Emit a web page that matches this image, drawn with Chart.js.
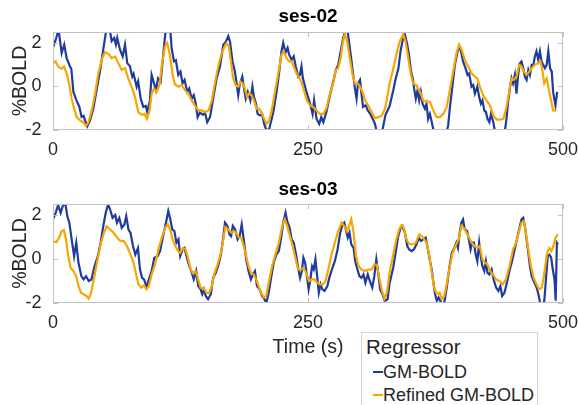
<!DOCTYPE html>
<html><head><meta charset="utf-8">
<script src="https://cdn.jsdelivr.net/npm/chart.js@4/dist/chart.umd.min.js"></script>
<style>
html,body{margin:0;padding:0;background:#fff;width:579px;height:405px;overflow:hidden;font-family:"Liberation Sans",Arial,sans-serif;}
canvas{position:absolute;left:0;}
#c1{top:0;}
#c2{top:170px;}
#legend{position:absolute;left:361px;top:332px;width:177px;height:90px;border:1px solid #d4d4d4;box-sizing:border-box;color:#262626;background:#fff;}
#legend .ttl{position:absolute;left:4px;top:2px;font-size:20.5px;line-height:24px;}
#legend .it{position:absolute;left:11px;font-size:18px;line-height:22px;white-space:nowrap;}
#legend .sw{display:inline-block;width:10px;height:2px;vertical-align:middle;margin-right:0;position:relative;top:-1px;}
</style>
</head><body>
<canvas id="c1" width="579" height="170"></canvas>
<canvas id="c2" width="579" height="235"></canvas>
<div id="legend"></div>
<script>
// ---- data ----
const panelTitles = ["ses-02", "ses-03"];
const seriesNames = ["GM-BOLD", "Refined GM-BOLD"];
const xTickValues = [0, 250, 500];
const yTickValues = [-2, 0, 2];

const ses02GmT = [0,3,5.5,8.5,11,13.4,16.7,18,20,23,25.8,28,30,31.4,33.6,36,39.5,43,46,50,52.6,55,57.5,60,61.7,63,65.7,68.3,70.6,72.8,75.5,77.7,79,82,83.5,86,88.5,91,92.4,95,96.7,99,101,103,105.5,107.5,109,111,113,115,116.3,118.6,120.5,122.8,125,127,129,131.6,133.5,136,138,140,141.8,144,147,149,151.2,154,157,160.4,163.7,167,169.5,171.8,173.5,176,178.4,180,181.6,183,185.6,187,189,191,193.5,195.5,197,199,200.6,203,205,207,209.4,212,216,219.2,221.8,224,225.7,228,230,231.5,234,236,238,240.4,242,243.6,245,248,250,252.5,254.5,256,258.4,261,263,265,268,271.5,274.7,277.3,279.6,282,284.5,286.8,288.7,291,292.7,294.3,296,297.6,299,301,302.6,304,306.6,308.6,311,313.5,315.5,318,321,323,326,330,333.5,336,338.7,340.7,343.3,345,347,349,351,352.7,354,355.7,357.4,359,360.6,362.3,364.6,366.2,367.8,369.5,371,372.8,374.4,378,382,385.8,387.4,389,391.7,394,396.7,398.2,400,402,404.4,406.4,408,410.3,412,413.6,416,417.8,419.5,421,422.8,424.5,426,427.8,429.4,431.7,433.4,437,441,443,444.6,446.2,447.9,449.5,451,452.8,454.4,456,457.7,459.3,461,462.6,464.3,466,467.6,469.3,471,472.4,474,475.7,477.4,479,480.6,482.3,484,485.6,487.3,489,490.3,492.6,494.3];
const ses02GmV = [1.77,2.2,2.6,1.53,1.92,1.3,0.91,0.8,-0.25,-0.64,-0.93,-1.4,-1.35,-1.56,-1.83,-1.6,-1.02,-0.1,0.68,1.92,2.7,2.8,2.08,2.23,1.92,2.23,1.69,1.38,1.92,1.07,0.92,0.45,0.58,-0.01,0.23,-0.56,-0.94,-0.9,-1.18,-0.64,0.53,0.15,-0.17,0.37,0.22,1.15,1.92,2.8,3.0,2.6,1.77,1.15,1.2,0.53,0.68,0.14,0.3,-0.25,-0.1,-0.56,-0.4,-0.79,-1.41,-1.2,-1.3,-1.2,-1.64,-1.4,-0.56,0.37,0.92,1.92,2.06,2.31,2.06,1.15,0.68,0.14,-0.4,0.07,0.45,-0.02,-0.56,-0.25,-0.64,0.0,-0.48,-0.79,-1.26,-1.33,-1.26,-1.72,-2.03,-1.95,-1.18,-0.25,0.68,1.61,2.0,1.55,1.77,1.46,1.22,1.38,0.92,0.45,0.53,0.92,0.37,-0.17,-0.48,-0.87,-1.26,-0.64,-1.49,-1.72,-1.41,-1.64,-1.18,-0.4,0.22,0.76,0.99,1.61,2.23,2.6,2.6,1.77,1.15,0.53,-0.1,-0.56,0.14,0.3,-0.4,-0.94,-0.87,-1.1,-1.26,-1.49,-1.7,-2.2,-2.3,-2.0,-1.3,-0.9,-0.2,0.37,0.84,1.61,2.23,2.38,2.0,1.46,0.68,0.37,-0.09,-0.56,-0.17,-0.64,-0.25,-0.79,-1.02,-0.79,-1.49,-1.26,-1.56,-1.95,-2.2,-2.5,-2.5,-2.1,-1.8,-1.02,0.06,0.99,1.61,1.85,1.61,1.15,0.84,0.53,0.6,-0.01,0.07,-0.33,-0.01,-0.48,-0.79,-0.64,-1.1,-1.18,-1.49,-1.64,-1.26,-1.64,-2.1,-2.6,-2.4,-2.05,-1.49,-0.71,-0.09,0.37,0.14,0.53,-0.33,0.53,1.07,1.15,0.84,0.45,0.3,0.76,0.53,0.99,0.99,1.38,1.61,1.22,1.61,1.15,0.99,0.84,0.99,1.61,0.84,0.68,-0.25,-0.87,-0.25];

const ses02RefT = [0,2.6,5,8.5,10.8,13.4,16,18.3,20.7,23.2,26.5,29.7,32.4,34.6,38,41,44.4,47.7,51,54.5,57.5,61,64,67.4,70.6,73.8,77,80.4,83.6,87,89.7,92,94.7,96.7,99,101.6,104.4,106.8,109.8,112,114.6,117.3,119.5,122.8,126,129.4,132.6,136,139,142.6,146,149,152.5,155.7,159,162.3,165.4,167.5,170,172.5,174.4,176.7,179,181.6,184,186,188,190.3,192.3,194.6,197,199.5,202,204.4,207,209.4,212,215.3,218.5,221.8,224,226.4,229,231.5,234,236,238.7,242,245,248.7,252,255,258.4,261.6,265,268,271.5,274.7,277.3,279.6,282,284,286,288.4,291,293.7,296,298.6,301,303.4,306,309,312.5,315.8,319,322.4,325.7,328,330,333.5,336.6,340,343.3,345.6,348.3,350.6,353,355.7,358,360.6,362.9,366.2,369.5,372.8,376,379.4,382.6,386,389,392.3,395.6,398.2,400.6,403.8,407,410.3,413.6,416,418.5,421.7,425,428.4,431.7,435,438,441.6,444.6,447.2,449.5,451.8,454.4,457,459.3,461.6,464.3,467,469.3,472.4,475.7,478,480,481.6,484,486.6,489,490.3,493.6];
const ses02RefV = [1.07,1.15,0.92,0.81,0.92,0.6,0.07,-0.56,-1.02,-1.41,-1.56,-1.64,-1.8,-1.67,-1.1,-0.4,0.6,1.22,1.58,1.49,1.3,1.38,1.07,0.76,0.84,0.37,-0.01,-0.48,-1.18,-1.3,-1.26,-1.49,-1.1,-0.33,-0.1,-0.25,0.07,0.99,1.85,2.0,1.46,0.53,0.1,-0.01,0.07,-0.17,-0.33,-0.64,-0.87,-1.1,-1.1,-1.18,-1.1,-0.64,0.22,0.99,1.53,1.75,1.98,1.85,1.15,0.37,0.07,-0.01,0.22,0.14,-0.09,-0.48,-0.33,-0.4,-0.64,-1.02,-1.02,-1.18,-1.49,-1.72,-1.56,-0.87,-0.01,0.84,1.46,1.61,1.3,1.15,1.15,0.92,0.6,0.37,-0.01,-0.64,-0.87,-0.94,-1.1,-1.26,-1.26,-1.02,-0.33,0.14,0.76,0.84,1.3,2.0,2.39,2.08,1.3,0.53,0.14,0.14,-0.01,-0.25,-0.64,-0.87,-1.18,-1.46,-1.41,-1.33,-1.0,-0.4,0.12,0.8,1.45,2.08,2.39,2.08,1.3,0.6,0.14,0.07,-0.09,-0.33,-0.64,-0.71,-0.71,-1.1,-1.41,-1.41,-1.26,-0.94,-0.17,0.68,1.53,1.92,1.69,1.22,0.92,0.6,0.45,0.37,-0.01,-0.4,-0.64,-0.87,-1.33,-1.52,-1.52,-1.49,-0.94,-0.25,0.37,0.3,0.45,0.99,0.92,0.68,0.53,0.68,0.84,0.99,1.07,1.15,0.68,0.14,0.37,-0.25,-0.79,-1.1,-1.1];

const ses03GmT = [0,2.6,5,7.5,9.5,12,14,16,18.3,20.7,22.8,25,27.8,30,32.4,35,37.7,40.7,44,46.7,49.3,51.7,54,56,58.4,61,62.7,65,67.4,70,71.8,74,76,78.4,80.7,83.3,85.3,87.3,89.3,91.6,94,96.7,99.3,102.6,105,107.6,110,111.4,113,114.7,117,119,121,123,124.7,127,129,131.3,133.6,135.6,138,140.4,142.4,144.7,146.3,148,149.7,152,154.7,157,159.6,162.3,164.6,167,168.6,171,173,174.6,176.3,178.6,181,183,185,187.4,189.4,191.7,194,196,198,200,202.6,205,207.3,209.2,211.5,213.8,216.4,219,221.4,223.7,225.7,228,229.6,232,234,236,238.6,240.6,242.2,244,245.5,247.2,249,250.6,252.3,254,255.6,257.3,259,260.6,262.3,264,266.2,269,271.3,274,276.3,279,281.3,283.7,285.6,287.4,289,290.7,292.4,294.7,296.3,298,300.4,302.4,304.4,306.3,308.6,310.6,313,315,317,319,320.7,323,325.3,328,330,333.5,336,338.3,340.6,342.6,345,347.3,349.2,351.5,353.8,356.4,358.7,360.7,363,365.3,367,369,371.3,373,374.6,376.3,378,379.6,382,384,386.2,388.8,391,393.4,395.4,397,398.7,400.4,402,403.7,406,407.7,409.4,411,412.7,414.4,416,417.8,419.5,421,422.8,424.4,426,427.8,430,432,434.4,436.6,438.6,440.3,442.6,445,447.5,450,452.6,454.8,457,459.3,461,462.6,464.3,466,467.6,469.3,472,474.2,475.9,477.6,480,481.8,483.5,485,486.8,488.4,490,491.7,492.8,494,495];
const ses03GmV = [1.8,2.1,2.45,2.1,2.4,2.56,1.95,1.65,0.89,0.13,0.74,-0.17,-0.78,-0.93,-0.78,-1.0,-0.93,-0.33,0.13,0.74,1.5,2.1,2.48,2.25,1.87,2.0,1.65,1.87,1.42,1.57,1.95,1.34,1.19,0.59,0.2,0.5,-0.48,-0.86,-0.93,-1.27,-0.93,-0.55,0.06,0.13,0.36,0.97,1.5,1.8,2.18,1.87,1.34,1.27,0.74,0.89,0.13,0.43,0.5,0.06,-0.33,-0.55,-0.93,-0.55,-1.23,-1.38,-1.6,-1.38,-1.68,-1.83,-1.6,-0.86,-0.63,-0.25,0.2,1.0,1.65,1.5,1.12,1.04,1.5,1.34,0.89,1.04,1.57,0.74,-0.02,-0.55,-0.93,-0.7,-0.55,-1.23,-1.38,-1.68,-1.83,-2.0,-1.53,-0.86,-0.17,0.2,0.36,0.97,1.65,2.1,1.72,1.42,0.89,0.74,0.13,-0.48,-0.86,-0.55,0.06,-0.17,-0.78,-1.38,-0.93,-0.33,-0.48,-0.02,-0.78,-1.53,-1.15,-1.38,-1.45,-1.23,-0.78,-0.4,-0.1,0.43,1.12,1.57,1.65,1.27,0.97,1.2,0.67,0.5,-0.1,-0.4,-0.78,-0.86,-0.7,-1.08,-0.7,-1.0,-1.3,-0.78,-0.02,-0.7,-1.38,-1.6,-1.9,-1.83,-1.1,-0.4,0.3,1.0,1.4,1.5,1.2,0.59,0.43,0.36,0.43,0.67,0.97,0.82,0.89,0.97,0.59,0.06,-0.48,-1.08,-1.6,-1.9,-1.75,-1.9,-2.1,-1.9,-1.23,-0.33,0.28,0.5,0.74,0.5,1.2,1.65,1.8,1.34,1.27,0.89,0.43,0.74,0.74,0.2,-0.1,0.74,0.06,-0.33,-0.55,-0.1,-0.63,-0.7,-0.48,-0.93,-1.3,-1.45,-1.23,-1.68,-1.53,-1.08,-0.55,-0.1,0.43,0.89,1.34,1.8,1.87,1.5,0.89,0.28,-0.33,-0.78,-1.08,-1.3,-1.6,-2.0,-2.3,-1.83,-0.78,0.13,0.2,0.06,-0.48,-0.93,-1.9,0.74,0.67];

const ses03RefT = [0,3.3,6,8.5,10.8,12.7,15,17.3,20,22.8,25,27.4,30,32.7,35,37.4,40,43.4,46.7,50,52.6,56,59.3,62.7,66,69.3,72.5,76,79,81.5,83.8,86.5,89.2,91.6,94,96.7,100,103.3,106.6,110,112.6,115.3,117.3,120,122.5,124.7,127.4,130,132.3,135,137,139.7,142,144.7,148,150.4,153,155.7,158,161.3,164.6,167,169,172,174.6,177,179.6,182.3,184.6,187,189.4,191.7,194,196.7,199.3,201.6,204,206.6,209,211.5,214.8,218,221.4,224.7,227.3,229.6,232.3,235,237.6,240.3,243,245.5,248.3,251,253.6,256.3,259,261.6,264.6,267.2,270.3,273,276.3,279.6,283,285.6,288,290.3,292.4,294.7,297,299.7,302.4,305.7,309,312.3,315,317.3,319.6,322.3,325,327.5,330,333.5,336.6,339.3,341.6,344,346.6,349.2,352.6,355.7,359,361.4,364,366.3,369,371.3,373.7,376.3,379,381.3,383.6,386.2,388.8,391.4,394.4,397.7,400.4,402.6,405.3,408,410.6,413.3,416,418.5,421,423.6,426,428.6,431.3,434.4,437.6,441,444,447.5,451,454,457,459.3,461.6,463.6,466,468.6,471.3,474,476.5,479.3,482,484.4,486.6,488.6,490.6,492.6,495];
const ses03RefV = [0.81,0.76,0.97,1.27,1.31,0.89,0.13,-0.4,-0.55,-0.78,-1.23,-1.53,-1.6,-1.68,-1.8,-1.53,-0.93,-0.1,0.67,1.2,1.48,1.34,1.2,0.97,0.82,0.82,0.59,0.2,-0.17,-0.7,-1.15,-1.3,-1.2,-1.38,-1.23,-0.7,-0.25,0.43,0.97,1.42,1.57,1.27,0.89,0.59,0.36,0.28,0.5,0.43,0.06,-0.48,-0.63,-0.55,-0.86,-1.3,-1.35,-1.53,-1.56,-1.23,-0.7,-0.25,0.28,0.9,1.45,1.34,1.2,1.27,1.2,0.97,0.97,0.59,0.13,-0.33,-0.63,-0.7,-0.93,-1.23,-1.53,-1.75,-1.68,-1.08,-0.33,0.2,0.74,1.5,1.8,1.5,1.04,0.59,0.06,-0.48,-0.48,-0.4,-0.63,-1.0,-0.93,-0.93,-1.08,-1.15,-1.15,-1.0,-0.4,0.2,0.74,1.27,1.65,1.5,1.27,1.5,1.8,1.2,0.13,-0.33,-0.48,-0.55,-0.48,-0.48,-0.25,-0.25,-0.78,-1.4,-1.8,-1.5,-0.6,0.2,0.89,1.34,1.53,1.42,0.89,0.67,0.67,0.74,1.12,1.04,0.89,0.74,0.13,-0.63,-1.3,-1.6,-1.53,-1.83,-1.68,-1.08,-0.4,0.2,0.59,0.89,1.5,1.42,1.2,0.97,0.74,0.59,0.5,0.59,-0.02,-0.17,-0.25,-0.55,-0.7,-0.93,-1.0,-1.15,-0.93,-0.33,0.43,0.74,1.27,1.65,1.72,1.2,0.43,-0.33,-0.86,-1.15,-1.38,-1.3,-0.55,0.28,0.5,0.36,0.59,0.97,1.12];

// ---- styling ----
const BLUE = '#1f3b9e';
const ORANGE = '#f7a700';
const TXT = '#262626';
const FONT = "'Liberation Sans', Arial, sans-serif";

const zip = (t, v) => t.map((x, i) => ({x, y: v[i]}));

const boxTicks = {
  id: 'boxTicks',
  afterDatasetsDraw(chart) {
    const {ctx, chartArea: a, scales: {x, y}} = chart;
    ctx.save();
    ctx.strokeStyle = '#c2c2c2';
    ctx.lineWidth = 1;
    ctx.strokeRect(a.left + 0.5, a.top + 0.5, a.right - a.left - 1, a.bottom - a.top - 1);
    const L = 5;
    ctx.beginPath();
    xTickValues.forEach(v => {
      const px = Math.round(x.getPixelForValue(v)) + 0.5;
      ctx.moveTo(px, a.bottom); ctx.lineTo(px, a.bottom - L);
      ctx.moveTo(px, a.top); ctx.lineTo(px, a.top + L);
    });
    yTickValues.forEach(v => {
      const py = Math.round(y.getPixelForValue(v)) + 0.5;
      ctx.moveTo(a.left, py); ctx.lineTo(a.left + L, py);
      ctx.moveTo(a.right, py); ctx.lineTo(a.right - L, py);
    });
    ctx.stroke();
    ctx.restore();
  }
};

function makePanel(id, title, gmT, gmV, refT, refV, opts) {
  return new Chart(document.getElementById(id), {
    type: 'line',
    data: {
      datasets: [
        {label: seriesNames[1], data: zip(refT, refV), borderColor: ORANGE, borderWidth: 2.2, pointRadius: 0, tension: 0, clip: 0, order: 0},
        {label: seriesNames[0], data: zip(gmT, gmV), borderColor: BLUE, borderWidth: 2.2, pointRadius: 0, tension: 0, clip: 0, order: 1}
      ]
    },
    options: {
      responsive: false,
      animation: false,
      layout: {padding: {left: 0, right: 16, top: 0, bottom: 0}},
      plugins: {
        legend: {display: false},
        tooltip: {enabled: false},
        title: {display: true, text: title, fullSize: false, color: '#000',
          font: {family: FONT, size: 19, weight: 'bold', lineHeight: 1.2},
          padding: {top: opts.tTop, bottom: opts.tBottom}}
      },
      scales: {
        x: {
          type: 'linear', min: 0, max: 500,
          afterBuildTicks: s => { s.ticks = xTickValues.map(v => ({value: v})); },
          afterFit: s => { s.height = opts.xH; s.paddingLeft = 0; s.paddingRight = 0; },
          grid: {display: false}, border: {display: false},
          ticks: {color: TXT, font: {family: FONT, size: 18}, padding: 1, maxRotation: 0},
          title: {display: !!opts.xTitle, text: opts.xTitle || '', color: TXT,
            font: {family: FONT, size: 19.5, lineHeight: 1.2}, padding: {top: 0, bottom: opts.xTitlePad || 0}}
        },
        y: {
          type: 'linear', min: -2, max: 2.5,
          afterBuildTicks: s => { s.ticks = yTickValues.map(v => ({value: v})); },
          afterFit: s => { s.width = 53; },
          grid: {display: false}, border: {display: false},
          ticks: {color: TXT, font: {family: FONT, size: 18}, padding: 3.5},
          title: {display: true, text: '%BOLD', color: TXT,
            font: {family: FONT, size: 19.5, lineHeight: 1.2}, padding: {top: 9, bottom: 0}}
        }
      }
    },
    plugins: [boxTicks]
  });
}

makePanel('c1', panelTitles[0], ses02GmT, ses02GmV, ses02RefT, ses02RefV, {tTop: 5, tBottom: 4.2, xH: 40});
makePanel('c2', panelTitles[1], ses03GmT, ses03GmV, ses03RefT, ses03RefV, {tTop: 8.3, tBottom: 2.9, xH: 102, xTitle: 'Time (s)', xTitlePad: 46});

// legend
const lg = document.getElementById('legend');
lg.innerHTML = '<div class="ttl">Regressor</div>' +
  '<div class="it" style="top:28px"><span class="sw" style="background:' + BLUE + '"></span>' + seriesNames[0] + '</div>' +
  '<div class="it" style="top:51px"><span class="sw" style="background:' + ORANGE + '"></span>' + seriesNames[1] + '</div>';
</script>
</body></html>
